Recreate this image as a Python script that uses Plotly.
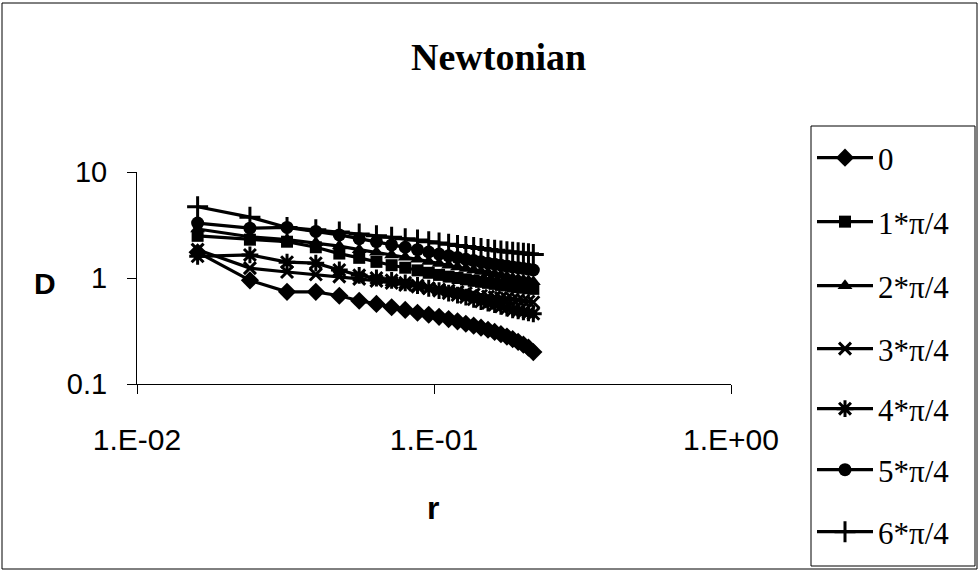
import plotly.graph_objects as go

r_vals = [0.016, 0.024, 0.032, 0.040, 0.048, 0.056, 0.064, 0.072, 0.080, 0.088,
          0.096, 0.104, 0.112, 0.120, 0.128, 0.136, 0.144, 0.152, 0.160, 0.168,
          0.176, 0.184, 0.192, 0.200, 0.208, 0.216]

d_0 = [1.75, 0.95, 0.74, 0.74, 0.68, 0.61, 0.57, 0.53, 0.50, 0.47, 0.45, 0.43, 0.41,
       0.39, 0.37, 0.355, 0.34, 0.325, 0.31, 0.295, 0.28, 0.265, 0.25, 0.235, 0.22, 0.20]
d_1 = [2.5, 2.3, 2.2, 1.95, 1.7, 1.55, 1.42, 1.32, 1.25, 1.18, 1.12, 1.07, 1.03,
       1.0, 0.97, 0.94, 0.92, 0.9, 0.88, 0.86, 0.85, 0.83, 0.82, 0.81, 0.80, 0.79]
d_2 = [2.9, 2.45, 2.3, 2.15, 2.0, 1.85, 1.75, 1.65, 1.57, 1.5, 1.43, 1.37, 1.32,
       1.27, 1.23, 1.19, 1.15, 1.12, 1.09, 1.06, 1.03, 1.0, 0.98, 0.96, 0.94, 0.92]
d_3 = [1.85, 1.24, 1.14, 1.08, 1.03, 0.98, 0.94, 0.9, 0.86, 0.83, 0.8, 0.78, 0.76,
       0.74, 0.72, 0.7, 0.68, 0.67, 0.66, 0.65, 0.64, 0.63, 0.62, 0.61, 0.6, 0.59]
d_4 = [1.6, 1.65, 1.41, 1.38, 1.19, 1.06, 1.0, 0.95, 0.9, 0.85, 0.8, 0.76, 0.72,
       0.69, 0.66, 0.63, 0.6, 0.58, 0.56, 0.54, 0.52, 0.5, 0.49, 0.48, 0.47, 0.46]
d_5 = [3.3, 2.95, 3.0, 2.75, 2.55, 2.35, 2.2, 2.05, 1.95, 1.85, 1.76, 1.68, 1.62,
       1.56, 1.5, 1.46, 1.42, 1.38, 1.35, 1.32, 1.29, 1.27, 1.25, 1.23, 1.21, 1.19]
d_6 = [4.7, 3.75, 3.0, 2.85, 2.72, 2.6, 2.5, 2.42, 2.35, 2.28, 2.2, 2.14, 2.08,
       2.03, 1.98, 1.94, 1.9, 1.86, 1.83, 1.8, 1.77, 1.75, 1.73, 1.71, 1.69, 1.67]

series_names = ["0", "1*π/4", "2*π/4", "3*π/4", "4*π/4", "5*π/4", "6*π/4"]
series_values = [d_0, d_1, d_2, d_3, d_4, d_5, d_6]

x_tickvals = [0.01, 0.1, 1]
x_ticktext = ["1.E-02", "1.E-01", "1.E+00"]
y_tickvals = [0.1, 1, 10]
y_ticktext = ["0.1", "1", "10"]

markers = [
    dict(symbol="diamond", size=14, color="black"),
    dict(symbol="square", size=12, color="black"),
    dict(symbol="triangle-up", size=13, color="black"),
    dict(symbol="x-thin", size=12, color="black", line=dict(width=3, color="black")),
    dict(symbol="asterisk", size=14, color="black", line=dict(width=3, color="black")),
    dict(symbol="circle", size=13, color="black"),
    dict(symbol="cross-thin", size=15, color="black", line=dict(width=3, color="black")),
]

L, R, T, B = 137, 248, 172, 187
W, H = 979, 571
pw, ph = W - L - R, H - T - B

def px_x(p):
    return (p - L) / pw

def px_y(p):
    return (H - B - p) / ph

legend_centers = [158, 222, 286, 349, 409, 470, 532]

fig = go.Figure()
legend_layouts = {}
for i, (name, vals) in enumerate(zip(series_names, series_values)):
    key = "legend" if i == 0 else f"legend{i + 1}"
    fig.add_trace(go.Scatter(
        x=r_vals, y=vals, name=name, mode="lines+markers",
        line=dict(color="black", width=3.2),
        marker=markers[i], legend=key,
    ))
    legend_layouts[key] = dict(
        x=px_x(812), y=px_y(legend_centers[i]), xanchor="left", yanchor="middle",
        borderwidth=0, bgcolor="rgba(0,0,0,0)",
        font=dict(family="Liberation Serif", size=31, color="black"),
        itemwidth=56,
    )

fig.update_layout(
    width=W, height=H,
    margin=dict(l=L, r=R, t=T, b=B),
    paper_bgcolor="white", plot_bgcolor="white",
    showlegend=True,
    xaxis=dict(
        type="log", range=[-2, 0], tickvals=x_tickvals, ticktext=x_ticktext,
        showline=True, linecolor="black", linewidth=1, ticks="outside",
        ticklen=9, tickcolor="black", showgrid=False, zeroline=False,
        tickfont=dict(family="Liberation Sans", size=30, color="black"),
        ticklabelstandoff=20,
    ),
    yaxis=dict(
        type="log", range=[-1, 1], tickvals=y_tickvals, ticktext=y_ticktext,
        showline=True, linecolor="black", linewidth=1, ticks="outside",
        ticklen=9, tickcolor="black", showgrid=False, zeroline=False,
        tickfont=dict(family="Liberation Sans", size=29, color="black"),
        ticklabelstandoff=14,
    ),
    annotations=[
        dict(text="<b>Newtonian</b>", x=px_x(498), y=px_y(57), xref="paper", yref="paper",
             showarrow=False, font=dict(family="Liberation Serif", size=38, color="black"),
             xanchor="center", yanchor="middle"),
        dict(text="<b>D</b>", x=px_x(45), y=px_y(283), xref="paper", yref="paper",
             showarrow=False, font=dict(family="Liberation Sans", size=30, color="black"),
             xanchor="center", yanchor="middle"),
        dict(text="<b>r</b>", x=px_x(433), y=px_y(508), xref="paper", yref="paper",
             showarrow=False, font=dict(family="Liberation Sans", size=32, color="black"),
             xanchor="center", yanchor="middle"),
    ],
    shapes=[
        dict(type="rect", xref="paper", yref="paper",
             x0=px_x(2), x1=px_x(977), y0=px_y(569), y1=px_y(3),
             line=dict(color="black", width=1), fillcolor="rgba(0,0,0,0)", layer="below"),
        dict(type="rect", xref="paper", yref="paper",
             x0=px_x(811), x1=px_x(975), y0=px_y(566), y1=px_y(126),
             line=dict(color="black", width=1), fillcolor="rgba(0,0,0,0)", layer="below"),
    ],
    **legend_layouts,
)

fig.write_html("out.html")
